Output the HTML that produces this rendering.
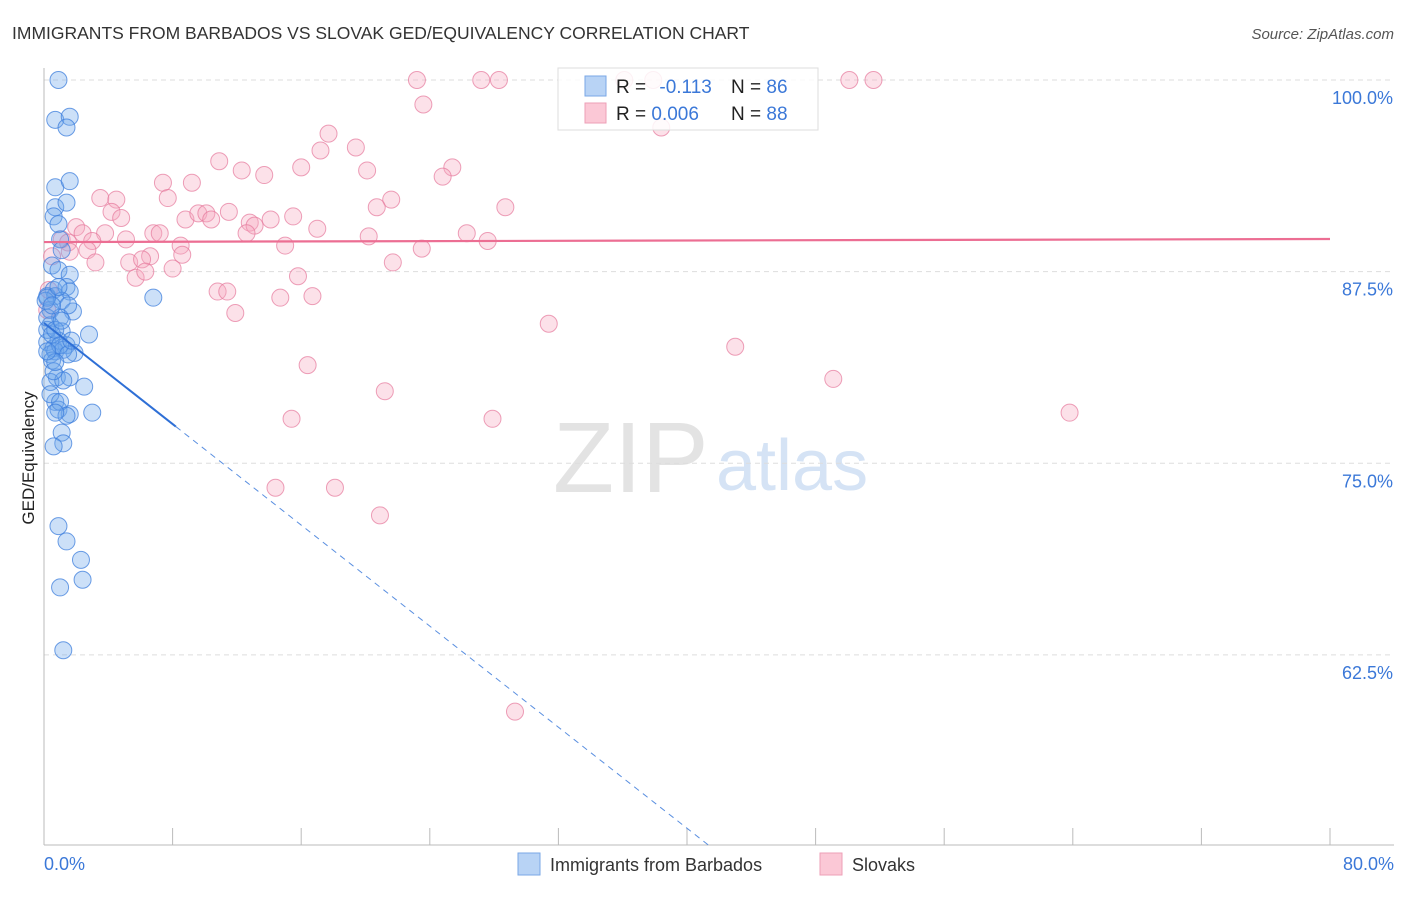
<!DOCTYPE html>
<html><head><meta charset="utf-8"><style>
body{margin:0;background:#fff;font-family:"Liberation Sans",sans-serif}
svg text{font-family:"Liberation Sans",sans-serif}
</style></head><body>
<svg id="chart" width="1406" height="892" xmlns="http://www.w3.org/2000/svg">
<text x="12" y="39" font-size="17.5" fill="#333">IMMIGRANTS FROM BARBADOS VS SLOVAK GED/EQUIVALENCY CORRELATION CHART</text>
<text x="1394" y="39" font-size="15" fill="#555" font-style="italic" text-anchor="end">Source: ZipAtlas.com</text>
<text transform="translate(34,458) rotate(-90)" font-size="17" fill="#222" text-anchor="middle">GED/Equivalency</text>
<g>
<text x="553" y="492" font-size="100" fill="#e3e3e3" font-family="Liberation Serif, serif">ZIP</text>
<text x="716" y="490" font-size="72" fill="#d5e3f5">atlas</text>
</g>
<g id="grid"></g>
<g id="axes"></g>
<g id="marks"></g>
<g>
<rect x="558" y="68" width="260" height="62" fill="#fff" fill-opacity="0.85" stroke="#ddd"/>
<rect x="585" y="76" width="21" height="20" fill="#b8d3f5" stroke="#7aa7e6"/>
<rect x="585" y="103" width="21" height="20" fill="#fbc8d6" stroke="#ee9fb7"/>
<text x="616" y="93" font-size="19" fill="#222">R = <tspan fill="#3b78d8" dx="8">-0.113</tspan></text>
<text x="731" y="93" font-size="19" fill="#222">N = <tspan fill="#3b78d8">86</tspan></text>
<text x="616" y="120" font-size="19" fill="#222">R = <tspan fill="#3b78d8">0.006</tspan></text>
<text x="731" y="120" font-size="19" fill="#222">N = <tspan fill="#3b78d8">88</tspan></text>
</g>
<g>
<rect x="518" y="853" width="22" height="22" fill="#b8d3f5" stroke="#7aa7e6"/>
<text x="550" y="871" font-size="18" fill="#333">Immigrants from Barbados</text>
<rect x="820" y="853" width="22" height="22" fill="#fbc8d6" stroke="#ee9fb7"/>
<text x="852" y="871" font-size="18" fill="#333">Slovaks</text>
</g>
</svg>
<script>
const yTicks=[100,87.5,75,62.5];
const yTickLabels=["100.0%","87.5%","75.0%","62.5%"];
const xTicks=[0,8,16,24,32,40,48,56,64,72,80];
const xEndLabels=["0.0%","80.0%"];
const pinkX=[23.2,27.2,28.3,37.9,50.1,51.6,36.1,23.6,38.4,17.7,17.2,19.4,10.9,16.0,25.4,20.1,12.3,13.7,24.8,7.4,9.2,3.5,4.5,7.7,21.6,20.7,28.7,4.2,4.8,8.8,9.6,10.1,11.5,10.4,12.8,14.1,15.5,13.1,17.0,12.6,6.8,7.2,2.0,2.4,3.8,5.1,8.5,1.1,1.5,3.0,15.0,20.2,26.3,27.6,23.5,1.6,2.7,6.6,5.3,6.1,8.6,3.2,8.0,21.7,5.7,6.3,15.8,10.8,11.4,14.7,16.7,11.9,31.4,43.0,16.4,49.1,21.2,15.4,27.9,63.8,14.4,18.1,20.9,29.3,0.3,0.5,0.2];
const pinkY=[100,100,100,100,100,100,100,98.4,96.9,96.5,95.4,95.6,94.7,94.3,94.3,94.1,94.1,93.8,93.7,93.3,93.3,92.3,92.2,92.3,92.2,91.7,91.7,91.4,91.0,90.9,91.3,91.3,91.4,90.9,90.7,90.9,91.1,90.5,90.3,90.0,90.0,90.0,90.4,90.0,90.0,89.6,89.2,89.6,89.4,89.5,89.2,89.8,90.0,89.5,89.0,88.8,88.9,88.5,88.1,88.3,88.6,88.1,87.7,88.1,87.1,87.5,87.2,86.2,86.2,85.8,85.9,84.8,84.1,82.6,81.4,80.5,79.7,77.9,77.9,78.3,73.4,73.4,71.6,58.8,86.3,88.5,85.0];
const blueX=[0.9,0.7,1.6,1.4,0.7,1.6,0.7,1.4,0.6,0.9,1.0,1.1,0.5,0.9,1.6,0.6,0.2,0.7,1.4,1.6,1.1,1.8,1.5,6.8,0.4,1.0,2.8,0.4,1.1,0.2,0.6,0.9,1.4,1.9,0.4,0.7,1.2,0.5,0.2,0.8,1.6,0.4,1.2,2.5,0.7,0.9,1.6,3.0,1.1,1.2,0.6,0.9,1.4,2.3,2.4,1.0,1.2,0.1,0.2,0.5,0.7,1.0,1.5,1.7,0.6,0.4,1.0,1.4,0.7,0.2,0.5,1.1,0.7,0.2,0.9];
const blueY=[100,97.4,97.6,96.9,93.0,93.4,91.7,92.0,91.1,90.6,89.6,88.9,87.9,87.6,87.3,86.3,85.9,85.9,86.5,86.2,85.6,84.9,85.3,85.8,85.0,84.5,83.4,84.0,83.6,82.9,82.5,83.0,82.7,82.2,82.1,82.3,82.4,81.7,83.7,80.6,80.6,80.3,80.4,80.0,79.0,78.5,78.2,78.3,77.0,76.3,76.1,70.9,69.9,68.7,67.4,66.9,62.8,85.6,84.5,83.4,83.7,82.7,82.1,83.0,81.0,79.5,79.0,78.1,78.3,85.8,85.3,84.3,81.6,82.3,86.5];
const blueTrend=[84.15,-0.824]; // intercept, slope
const blueSolidEnd=8.2;
const pinkTrend=[89.43,0.0025];

const NS="http://www.w3.org/2000/svg";
const X0=44,X1=1330,YT=80;
function sx(v){return X0+v*(X1-X0)/80;}
function sy(v){return YT+(100-v)*15.33;}
function mk(tag,attrs,parent){const e=document.createElementNS(NS,tag);for(const k in attrs)e.setAttribute(k,attrs[k]);parent.appendChild(e);return e;}
const grid=document.getElementById('grid'),axes=document.getElementById('axes'),marks=document.getElementById('marks');
yTicks.forEach((t,i)=>{
  const l=mk('line',{x1:X0,x2:1394,y1:sy(t),y2:sy(t),stroke:'#ddd','stroke-dasharray':'5,4'},grid);
  
  
  const tx=mk('text',{x:1393,y:sy(t)+24,'font-size':18,fill:'#3b78d8','text-anchor':'end'},axes);
  tx.textContent=yTickLabels[i];
  
  
});
let a=mk('line',{x1:X0,x2:X0,y1:68,y2:845,stroke:'#bbb'},axes);


a=mk('line',{x1:X0,x2:1394,y1:845,y2:845,stroke:'#bbb'},axes);


xTicks.forEach(t=>{
  const l=mk('line',{x1:sx(t),x2:sx(t),y1:828,y2:845,stroke:'#bbb'},axes);
  
  
});
let t0=mk('text',{x:44,y:870,'font-size':18,fill:'#3b78d8'},axes);t0.textContent=xEndLabels[0];


let t1=mk('text',{x:1394,y:870,'font-size':18,fill:'#3b78d8','text-anchor':'end'},axes);t1.textContent=xEndLabels[1];


pinkX.forEach((x,i)=>{
  const c=mk('circle',{cx:sx(x),cy:sy(pinkY[i]),r:8.5,fill:'rgba(246,168,192,0.35)',stroke:'rgba(230,120,155,0.7)','stroke-width':1},marks);
  
  
});
blueX.forEach((x,i)=>{
  const c=mk('circle',{cx:sx(x),cy:sy(blueY[i]),r:8.5,fill:'rgba(110,165,235,0.35)',stroke:'rgba(60,125,220,0.75)','stroke-width':1},marks);
  
  
});
const bx2=(50-blueTrend[0])/blueTrend[1];
let ln=mk('line',{x1:sx(0),y1:sy(blueTrend[0]),x2:sx(blueSolidEnd),y2:sy(blueTrend[0]+blueTrend[1]*blueSolidEnd),stroke:'#2e6fd6','stroke-width':2},marks);


ln=mk('line',{x1:sx(blueSolidEnd),y1:sy(blueTrend[0]+blueTrend[1]*blueSolidEnd),x2:sx(bx2),y2:sy(50),stroke:'#5a8fe0','stroke-width':1,'stroke-dasharray':'6,5'},marks);


ln=mk('line',{x1:sx(0),y1:sy(pinkTrend[0]),x2:sx(80),y2:sy(pinkTrend[0]+pinkTrend[1]*80),stroke:'#ec6e93','stroke-width':2.2},marks);


</script>
</body></html>
